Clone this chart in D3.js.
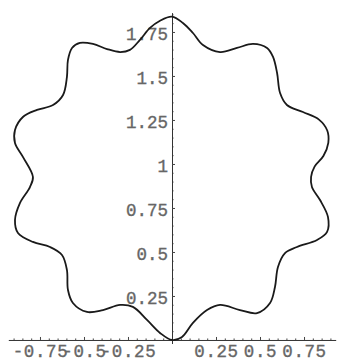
<!DOCTYPE html>
<html>
<head>
<meta charset="utf-8">
<script src="https://cdn.jsdelivr.net/npm/d3@7"></script>
<style>
  html, body { margin: 0; padding: 0; background: #fff; }
  svg { display: block; }
  .tick text {
    font-family: "Liberation Mono", "DejaVu Sans Mono", monospace;
    fill: #666; stroke: #666; stroke-width: 0.35px;
  }
</style>
</head>
<body>
<svg id="chart" width="338" height="362"></svg>
<script>
// Closed wavy curve, traced clockwise from the top point (x, y in plot units)
const curveX = [
  0, 0.062, 0.119, 0.176, 0.273, 0.369, 0.460, 0.540, 0.574, 0.597, 0.614, 0.653,
  0.744, 0.835, 0.882, 0.888, 0.860, 0.810, 0.790, 0.795, 0.841, 0.886, 0.881, 0.824, 0.710,
  0.642, 0.602, 0.585, 0.557, 0.483, 0.386, 0.273, 0.199, 0.119, 0.057, 0,
  -0.068, -0.142, -0.222, -0.295, -0.392, -0.483, -0.563, -0.591, -0.597, -0.625, -0.693,
  -0.790, -0.875, -0.892, -0.864, -0.807, -0.790, -0.847, -0.892, -0.892, -0.847, -0.767,
  -0.676, -0.619, -0.597, -0.591, -0.568, -0.523, -0.449, -0.369, -0.295, -0.239, -0.182,
  -0.125, -0.068
];
const curveY = [
  1.837, 1.801, 1.744, 1.676, 1.636, 1.659, 1.682, 1.659, 1.608, 1.517, 1.403, 1.335,
  1.295, 1.252, 1.190, 1.120, 1.045, 0.985, 0.926, 0.869, 0.795, 0.699, 0.614, 0.568, 0.528,
  0.494, 0.415, 0.301, 0.210, 0.153, 0.170, 0.199, 0.170, 0.097, 0.017, 0,
  0.040, 0.114, 0.188, 0.199, 0.170, 0.159, 0.210, 0.284, 0.398, 0.483, 0.528,
  0.557, 0.608, 0.682, 0.778, 0.869, 0.926, 1.040, 1.119, 1.193, 1.267, 1.307,
  1.335, 1.392, 1.494, 1.591, 1.659, 1.688, 1.682, 1.653, 1.636, 1.648, 1.705,
  1.773, 1.814
];

// Axis ticks and labels
const xTickValues = [-0.75, -0.5, -0.25, 0.25, 0.5, 0.75];
const xTickLabels = ["-0.75", "-0.5", "-0.25", "0.25", "0.5", "0.75"];
const yTickValues = [0.25, 0.5, 0.75, 1, 1.25, 1.5, 1.75];
const yTickLabels = ["0.25", "0.5", "0.75", "1", "1.25", "1.5", "1.75"];

const svg = d3.select("#chart");

const x = d3.scaleLinear().domain([-0.93, 0.93]).range([8.3, 335.7]);
const y = d3.scaleLinear().domain([-0.02, 1.86]).range([343.5, 12.6]);

const minorX = d3.range(-90, 91, 5).map(v => v / 100)
  .filter(v => Math.abs(v) > 1e-9 && xTickValues.every(t => Math.abs(t - v) > 1e-9));
const minorY = d3.range(5, 186, 5).map(v => v / 100)
  .filter(v => yTickValues.every(t => Math.abs(t - v) > 1e-9));

// Horizontal axis through y = 0
const gx = svg.append("g").attr("transform", `translate(0,${y(0)})`);
gx.append("g")
  .call(d3.axisBottom(x).tickValues(minorX).tickSize(-1.5).tickSizeOuter(0).tickFormat(""))
  .call(g => g.select(".domain").remove());
gx.append("g")
  .call(d3.axisBottom(x).tickValues(xTickValues).tickSize(-3).tickSizeOuter(0)
    .tickFormat((d, i) => xTickLabels[i]))
  .call(g => g.select(".domain").attr("stroke", "#333").attr("stroke-width", 1))
  .call(g => g.selectAll(".tick text")
    .attr("y", 17.5).attr("dy", 0)
    .style("font-size", "17.5px")
    .style("letter-spacing", "0.6px"));

// Vertical axis through x = 0
const gy = svg.append("g").attr("transform", `translate(${x(0)},0)`);
gy.append("g")
  .call(d3.axisLeft(y).tickValues(minorY).tickSize(-1.5).tickSizeOuter(0).tickFormat(""))
  .call(g => g.select(".domain").remove());
gy.append("g")
  .call(d3.axisLeft(y).tickValues(yTickValues).tickSize(-3).tickSizeOuter(0)
    .tickFormat((d, i) => yTickLabels[i]))
  .call(g => g.select(".domain").attr("stroke", "#333").attr("stroke-width", 1))
  .call(g => g.selectAll(".tick text")
    .attr("x", -4).attr("dy", "0.45em")
    .style("font-size", "17.5px"));

svg.selectAll(".tick line").attr("stroke", "#444");
svg.selectAll(".domain").attr("fill", "none");

// The curve
const pts = curveX.map((v, i) => [v, curveY[i]]);
const line = d3.line()
  .x(d => x(d[0]))
  .y(d => y(d[1]))
  .curve(d3.curveCatmullRomClosed.alpha(0.5));

svg.append("path")
  .datum(pts)
  .attr("d", line)
  .attr("fill", "none")
  .attr("stroke", "#1a1a1a")
  .attr("stroke-width", 1.8)
  .attr("stroke-linejoin", "round");
</script>
</body>
</html>
